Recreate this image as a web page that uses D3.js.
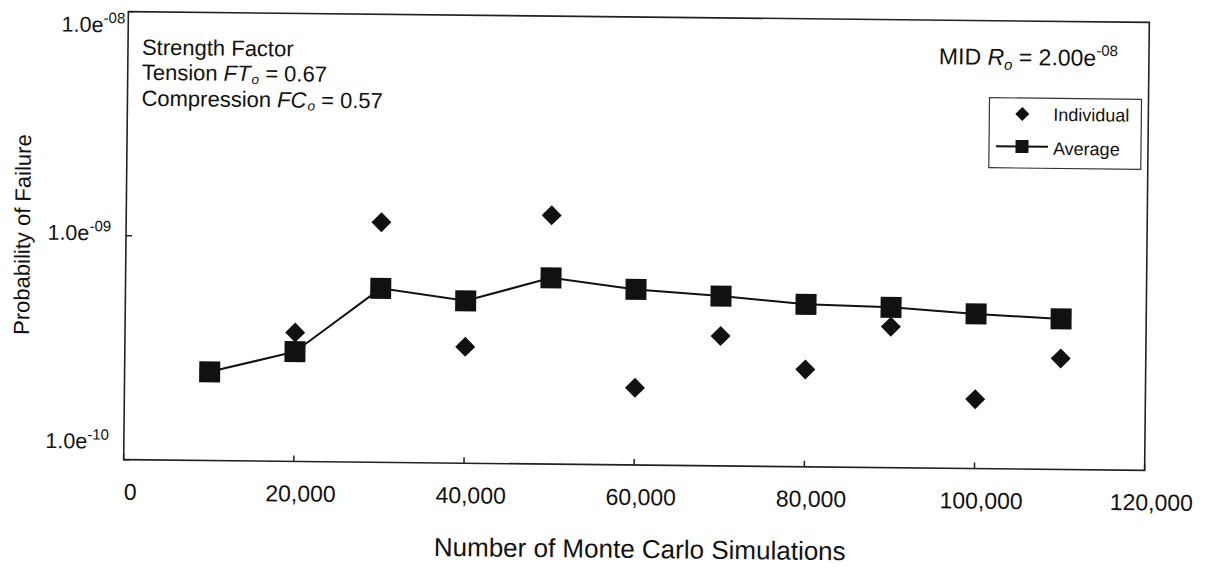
<!DOCTYPE html>
<html lang="en">

<head>
  <meta charset="UTF-8">
  <title>Probability of Failure vs Monte Carlo Simulations</title>
  <style>
    body { margin: 0; background: #fff; }
    text { font-family: "Liberation Sans", Arial, Helvetica, sans-serif; fill: #111; }
  </style>
</head>

<body>
  <script src="https://d3js.org/d3.v7.min.js"></script>

  <svg id="chart" width="1207" height="571"></svg>
  <script>
    // data
    const simulations = [10000, 20000, 30000, 40000, 50000, 60000, 70000, 80000, 90000, 100000, 110000];
    const individual = [2.49e-10, 3.76e-10, 1.18e-9, 3.31e-10, 1.29e-9, 2.21e-10, 3.80e-10, 2.72e-10, 4.26e-10, 2.04e-10, 3.13e-10];
    const average = [2.49e-10, 3.09e-10, 5.98e-10, 5.31e-10, 6.79e-10, 6.08e-10, 5.73e-10, 5.31e-10, 5.20e-10, 4.90e-10, 4.70e-10];
    const xTicks = [0, 20000, 40000, 60000, 80000, 100000, 120000];
    const yTicks = [1e-10, 1e-9, 1e-8];
    const yTickExp = ["-10", "-09", "-08"];

    const margin = { top: 17, left: 126 };
    const width = 1021;
    const height = 448;

    // the scan is slightly tilted, so everything sits in a rotated group
    const root = d3.select("svg#chart")
      .append("g")
      .attr("transform", "rotate(0.6,636,241)");

    const plot = root.append("g")
      .attr("transform", "translate(" + margin.left + "," + margin.top + ")");

    const x = d3.scaleLinear()
      .domain([0, 120000])
      .range([0, width]);

    const y = d3.scaleLog()
      .domain([1e-10, 1e-8])
      .range([height, 0]);

    // frame
    plot.append("rect")
      .attr("width", width)
      .attr("height", height)
      .attr("fill", "none")
      .attr("stroke", "#222")
      .attr("stroke-width", 1.6);

    // x ticks (inside) + labels
    plot.selectAll(".xtick")
      .data(xTicks)
      .join("line")
      .attr("class", "xtick")
      .attr("x1", d => x(d))
      .attr("x2", d => x(d))
      .attr("y1", height)
      .attr("y2", height - 6)
      .attr("stroke", "#222")
      .attr("stroke-width", 1.5);

    plot.selectAll(".xlabel")
      .data(xTicks)
      .join("text")
      .attr("class", "xlabel")
      .attr("x", d => x(d) + 7)
      .attr("y", height + 40)
      .attr("text-anchor", "middle")
      .style("font-size", "23px")
      .text(d => d3.format(",")(d));

    // y ticks + labels like 1.0e-09
    plot.selectAll(".ytick")
      .data(yTicks)
      .join("line")
      .attr("class", "ytick")
      .attr("x1", 0)
      .attr("x2", 6)
      .attr("y1", d => y(d))
      .attr("y2", d => y(d))
      .attr("stroke", "#222")
      .attr("stroke-width", 1.5);

    const yLab = plot.selectAll(".ylabel")
      .data(yTicks)
      .join("text")
      .attr("class", "ylabel")
      .attr("x", d => d === 1e-8 ? -3 : -15)
      .attr("y", d => 0.93 * y(d) + 20.6)
      .attr("text-anchor", "end")
      .style("font-size", "21.5px");
    yLab.append("tspan").text("1.0e");
    yLab.append("tspan")
      .attr("dy", -9)
      .style("font-size", "15px")
      .text((d, i) => yTickExp[i]);

    // average line with squares
    const line = d3.line()
      .x((d, i) => x(simulations[i]))
      .y(d => y(d));

    plot.append("path")
      .datum(average)
      .attr("d", line)
      .attr("fill", "none")
      .attr("stroke", "#111")
      .attr("stroke-width", 2);

    plot.selectAll(".ind")
      .data(individual)
      .join("path")
      .attr("class", "ind")
      .attr("d", (d, i) => {
        const cx = x(simulations[i]), cy = y(d), r = 10;
        return "M" + cx + "," + (cy - r) + "L" + (cx + r) + "," + cy + "L" + cx + "," + (cy + r) + "L" + (cx - r) + "," + cy + "Z";
      })
      .attr("fill", "#111");

    plot.selectAll(".avg")
      .data(average)
      .join("rect")
      .attr("class", "avg")
      .attr("x", (d, i) => x(simulations[i]) - 10.5)
      .attr("y", d => y(d) - 10.5)
      .attr("width", 21)
      .attr("height", 21)
      .attr("fill", "#111");

    // annotation top left
    const notes = root.append("g").style("font-size", "22px");
    notes.append("text").attr("x", 140).attr("y", 60).text("Strength Factor");

    const t2 = notes.append("text").attr("x", 140).attr("y", 85);
    t2.append("tspan").text("Tension ");
    t2.append("tspan").style("font-style", "italic").text("FT");
    t2.append("tspan").style("font-style", "italic").style("font-size", "13.5px").attr("dx", 1).attr("dy", 3).text("o");
    t2.append("tspan").attr("dy", -3).text(" = 0.67");

    const t3 = notes.append("text").attr("x", 140).attr("y", 111);
    t3.append("tspan").text("Compression ");
    t3.append("tspan").style("font-style", "italic").text("FC");
    t3.append("tspan").style("font-style", "italic").style("font-size", "13.5px").attr("dx", 1).attr("dy", 3).text("o");
    t3.append("tspan").attr("dy", -3).text(" = 0.57");

    // annotation top right
    const mid = root.append("text")
      .attr("x", 1116)
      .attr("y", 61)
      .attr("text-anchor", "end")
      .style("font-size", "23px");
    mid.append("tspan").text("MID ");
    mid.append("tspan").style("font-style", "italic").text("R");
    mid.append("tspan").style("font-style", "italic").style("font-size", "15px").attr("dy", 5).text("o");
    mid.append("tspan").attr("dy", -5).text(" = 2.00e");
    mid.append("tspan").style("font-size", "15px").attr("dy", -10).text("-08");

    // legend
    const legend = root.append("g").attr("transform", "translate(988,94)");
    legend.append("rect")
      .attr("width", 152)
      .attr("height", 70)
      .attr("fill", "#fff")
      .attr("stroke", "#333")
      .attr("stroke-width", 1.2);
    legend.append("path")
      .attr("d", "M33,9L40,16L33,23L26,16Z")
      .attr("fill", "#111");
    legend.append("text").attr("x", 64).attr("y", 22.5).style("font-size", "18px").text("Individual");
    legend.append("line")
      .attr("x1", 7).attr("x2", 59)
      .attr("y1", 48.5).attr("y2", 48.5)
      .attr("stroke", "#111").attr("stroke-width", 2);
    legend.append("rect")
      .attr("x", 26.5).attr("y", 42)
      .attr("width", 13).attr("height", 13)
      .attr("fill", "#111");
    legend.append("text").attr("x", 64).attr("y", 56.5).style("font-size", "18px").text("Average");

    // axis titles
    root.append("text")
      .attr("x", 643)
      .attr("y", 558)
      .attr("text-anchor", "middle")
      .style("font-size", "26px")
      .text("Number of Monte Carlo Simulations");

    root.append("text")
      .attr("transform", "translate(30,241) rotate(-90)")
      .attr("text-anchor", "middle")
      .style("font-size", "22px")
      .text("Probability of Failure");
  </script>
</body>

</html>
